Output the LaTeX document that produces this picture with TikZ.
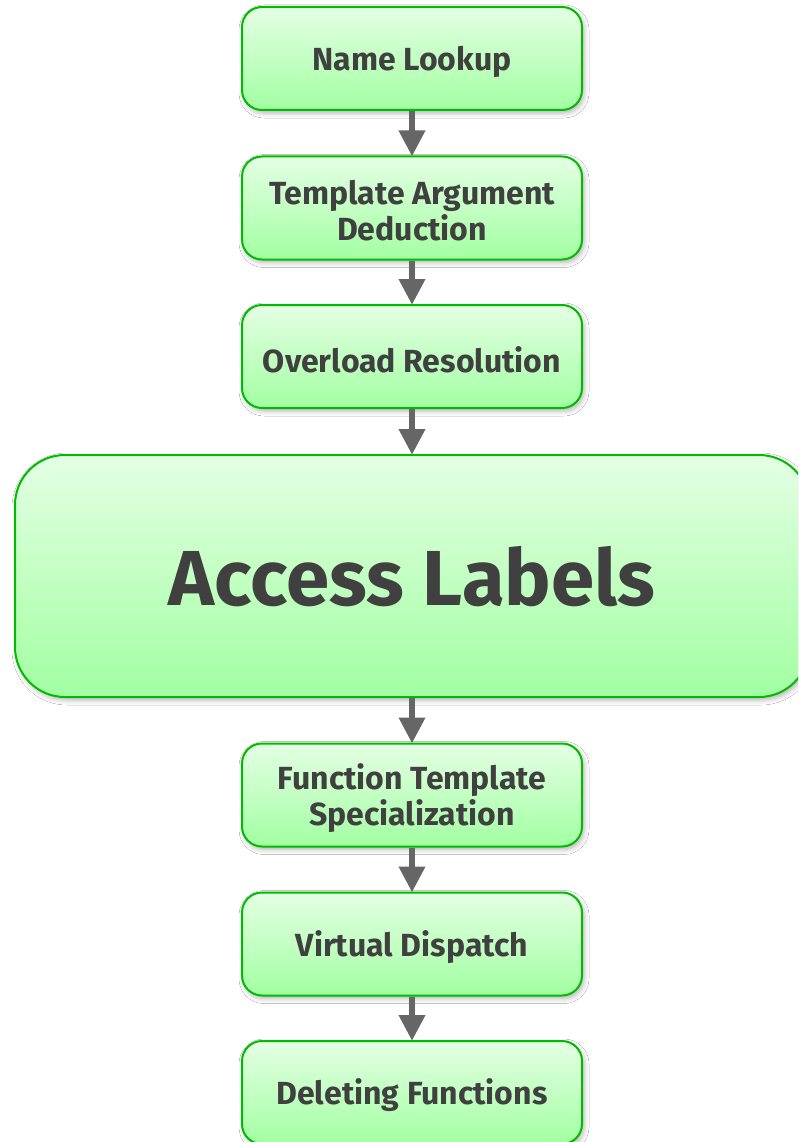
\documentclass[tikz,border=0pt]{standalone}
\usepackage{fontspec}
\setmainfont{Fira Sans}
\usetikzlibrary{arrows.meta,shadows.blur}
\definecolor{boxline}{HTML}{00BB00}
\definecolor{boxtop}{HTML}{E4FFE4}
\definecolor{boxbottom}{HTML}{A2FFA2}
\definecolor{txt}{HTML}{404040}
\definecolor{arrowgray}{HTML}{666666}
\tikzset{
  stage/.style={draw=boxline, line width=2pt, rounded corners=20pt,
    top color=boxtop, bottom color=boxbottom,
    minimum width=340pt, minimum height=103pt, inner sep=0pt,
    blur shadow={shadow xshift=2pt, shadow yshift=-3pt, shadow blur radius=5pt, shadow opacity=30}},
  stagetext/.style={align=center, text=txt, inner sep=0pt, yshift=-3pt,
    font=\fontsize{32}{36}\selectfont\bfseries},
  bigstage/.style={stage, rounded corners=50pt, minimum width=794pt,
    minimum height=242pt},
  bigtext/.style={stagetext, yshift=2pt, font=\fontsize{78}{90}\selectfont\bfseries},
  flow/.style={draw=arrowgray, line width=6.5pt,
    -{Triangle[length=26pt,width=25pt]}, shorten >=-1pt}
}
\begin{document}
\begin{tikzpicture}[x=1pt,y=-1pt]
  \useasboundingbox[fill=white] (0,0) rectangle (798,1142);
  \clip (0,0) rectangle (798,1142);
  \node[stage, label={[stagetext]center:Name Lookup}] (lookup) at (412,58.5) {};
  \node[stage, label={[stagetext]center:Template Argument\\Deduction}] (deduce) at (412,208) {};
  \node[stage, label={[stagetext]center:Overload Resolution}] (overload) at (412,356.5) {};
  \node[bigstage, label={[bigtext]center:Access Labels}] (access) at (412,576) {};
  \node[stage, label={[stagetext]center:Function Template\\Specialization}] (special) at (412,795) {};
  \node[stage, label={[stagetext]center:Virtual Dispatch}] (virtual) at (412,944) {};
  \node[stage, label={[stagetext]center:Deleting Functions}] (delete) at (412,1092.5) {};
  \draw[flow] (lookup.south) -- (deduce.north);
  \draw[flow] (deduce.south) -- (overload.north);
  \draw[flow] (overload.south) -- (access.north);
  \draw[flow] (access.south) -- (special.north);
  \draw[flow] (special.south) -- (virtual.north);
  \draw[flow] (virtual.south) -- (delete.north);
\end{tikzpicture}
\end{document}
